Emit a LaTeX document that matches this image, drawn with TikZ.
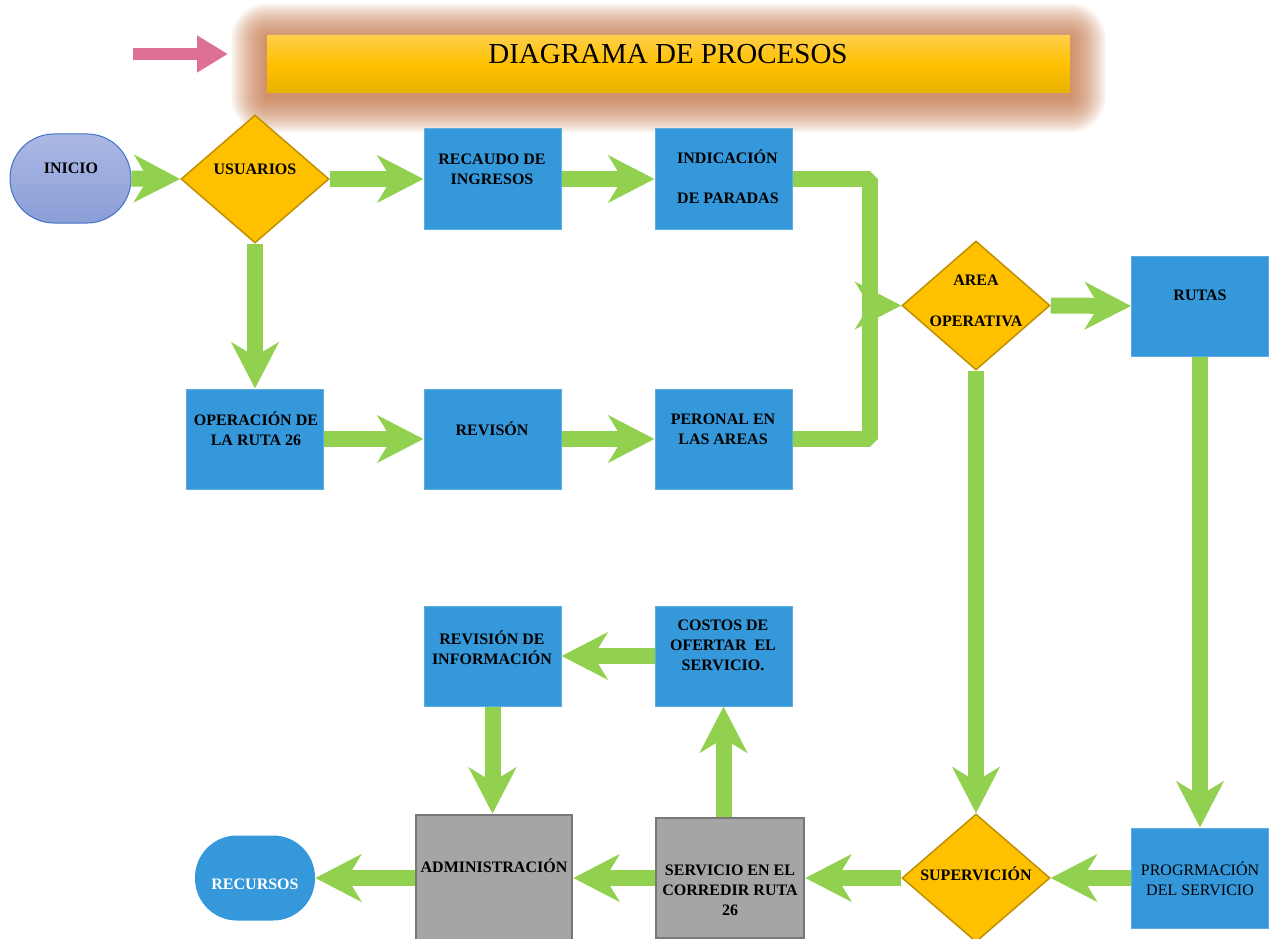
\documentclass[tikz,border=0pt]{standalone}
\usepackage{fontspec}
\setmainfont{Liberation Serif}
\usetikzlibrary{arrows.meta,shapes.geometric,calc}
\definecolor{boxblue}{RGB}{53,152,219}
\definecolor{agreen}{RGB}{146,208,80}
\definecolor{dgold}{RGB}{191,144,0}
\definecolor{goldc}{RGB}{255,192,0}
\definecolor{grayf}{RGB}{165,165,165}
\definecolor{grayd}{RGB}{120,120,120}
\definecolor{pinkc}{RGB}{222,112,147}
\definecolor{glowc}{RGB}{190,105,55}
\definecolor{inicioT}{RGB}{172,184,228}
\definecolor{inicioB}{RGB}{138,158,215}
\definecolor{inicioD}{RGB}{68,114,196}
\definecolor{titT}{RGB}{255,206,72}
\definecolor{titM}{RGB}{255,192,0}
\definecolor{titB}{RGB}{232,178,0}
\begin{document}
\begin{tikzpicture}[x=1pt,y=-1pt,
  bluebox/.style={fill=boxblue, draw=boxblue!80!white, line width=1pt, minimum width=137pt, minimum height=100pt, inner sep=0pt},
  graybox/.style={fill=grayf, draw=grayd, line width=2.5pt, inner sep=0pt},
  diam/.style={diamond, fill=goldc, draw=dgold, line width=1.5pt, minimum width=148pt, minimum height=128pt, inner sep=0pt},
  txt/.style={font=\bfseries\fontsize{16}{20}\selectfont, align=center, inner sep=0pt},
  txtr/.style={font=\fontsize{16}{20}\selectfont, align=center, inner sep=0pt},
  arr/.style={draw=agreen, line width=16pt, -{Stealth[length=46pt,width=47pt,inset=14pt]}},
  gline/.style={draw=agreen, line width=16pt, line join=bevel},
  pinkarr/.style={draw=pinkc, line width=12pt, -{Triangle[length=31pt,width=35pt]}}
]
\useasboundingbox (0,0) rectangle (1272,939);
\clip (0,0) rectangle (1272,939);

% title glow
\foreach \i in {1,...,36} {
  \fill[glowc, opacity=0.036, rounded corners=\i pt] ({267-\i},{39-\i}) rectangle ({1070+\i},{97+\i});
}
\node[minimum width=803pt, minimum height=57pt, inner sep=0pt, top color=titT, bottom color=titB, middle color=titM] (title) at (668.5,64.5) {};
\node[font=\fontsize{29}{32}\selectfont, inner sep=0pt] (titlet) at (668,54) {DIAGRAMA DE PROCESOS};

% pink arrow
\coordinate (pa0) at (133,54);
\coordinate (pa1) at (228,54);
\draw[pinkarr] (pa0) -- (pa1);

% shapes
\node[minimum width=121pt, minimum height=89pt, rounded corners=44pt, top color=inicioT, bottom color=inicioB, draw=inicioD, line width=1pt, inner sep=0pt] (inicio) at (70.5,178.5) {};
\node[diam] (usuarios) at (255,179) {};
\node[bluebox] (recaudo) at (492.5,179) {};
\node[bluebox] (indic) at (723.5,179) {};
\node[diam, minimum height=129pt] (area) at (976,305.5) {};
\node[bluebox] (rutas) at (1200,306) {};
\node[bluebox] (oper) at (255,439) {};
\node[bluebox] (revison) at (492.5,439) {};
\node[bluebox] (peronal) at (723.5,439) {};
\node[bluebox] (costos) at (723.5,656) {};
\node[bluebox] (revinfo) at (492.5,656) {};
\node[diam] (superv) at (976,878) {};
\node[bluebox] (progr) at (1200,878) {};
\node[graybox, minimum width=148pt, minimum height=120pt] (servicio) at (730,878) {};
\node[graybox, minimum width=156pt, minimum height=126pt] (admin) at (494,878) {};
\node[minimum width=120pt, minimum height=85pt, rounded corners=42pt, fill=boxblue, inner sep=0pt] (recursos) at (255,878) {};

% texts
\node[txt] (t-inicio) at (71,168) {INICIO};
\node[txt] (t-usuarios) at (255,169) {USUARIOS};
\node[txt] (t-recaudo) at (492,169) {RECAUDO DE\\INGRESOS};
\node[txt, align=left, anchor=west] (t-indic) at (677,177) {INDICACIÓN\\[20pt]DE PARADAS};
\node[txt] (t-area) at (976,301) {AREA\\[21pt]OPERATIVA};
\node[txt] (t-rutas) at (1200,295) {RUTAS};
\node[txt] (t-oper) at (256,429) {OPERACIÓN DE\\LA RUTA 26};
\node[txt] (t-revison) at (492,429) {REVISÓN};
\node[txt] (t-peronal) at (723,429) {PERONAL EN\\LAS AREAS};
\node[txt] (t-costos) at (723,645) {COSTOS DE\\OFERTAR~~EL\\SERVICIO.};
\node[txt] (t-revinfo) at (492,648) {REVISIÓN DE\\INFORMACIÓN};
\node[txt] (t-admin) at (494,866) {ADMINISTRACIÓN};
\node[txt, text=white] (t-recursos) at (255,884) {RECURSOS};
\node[txt] (t-superv) at (976,874) {SUPERVICIÓN};
\node[txtr] (t-progr) at (1200,879) {PROGRMACIÓN\\DEL SERVICIO};
\node[txt] (t-servicio) at (730,890) {SERVICIO EN EL\\CORREDIR RUTA\\26};

% connectors
\draw[arr] (inicio.east) -- (usuarios.west);
\draw[arr] (usuarios.east) -- (recaudo.west);
\draw[arr] (recaudo.east) -- (indic.west);
\draw[arr] (usuarios.south) -- (oper.north);
\draw[arr] (oper.east) -- (revison.west);
\draw[arr] (revison.east) -- (peronal.west);
\coordinate (jn) at (870,305.5);
\coordinate (ja) at (864,305.5);
\draw[gline] (indic.east) -| (jn) |- (peronal.east);
\draw[arr] (ja) -- (area.west);
\draw[arr] (area.east) -- (rutas.west);
\draw[arr] (area.south) -- (superv.north);
\draw[arr] (rutas.south) -- (progr.north);
\draw[arr] (progr.west) -- (superv.east);
\draw[arr] (superv.west) -- (servicio.east);
\draw[arr] (servicio.west) -- (admin.east);
\draw[arr] (admin.west) -- (recursos.east);
\draw[arr] (costos.south |- servicio.north) -- (costos.south);
\draw[arr] (costos.west) -- (revinfo.east);
\draw[arr] (revinfo.south) -- (revinfo.south |- admin.north);
\end{tikzpicture}
\end{document}
